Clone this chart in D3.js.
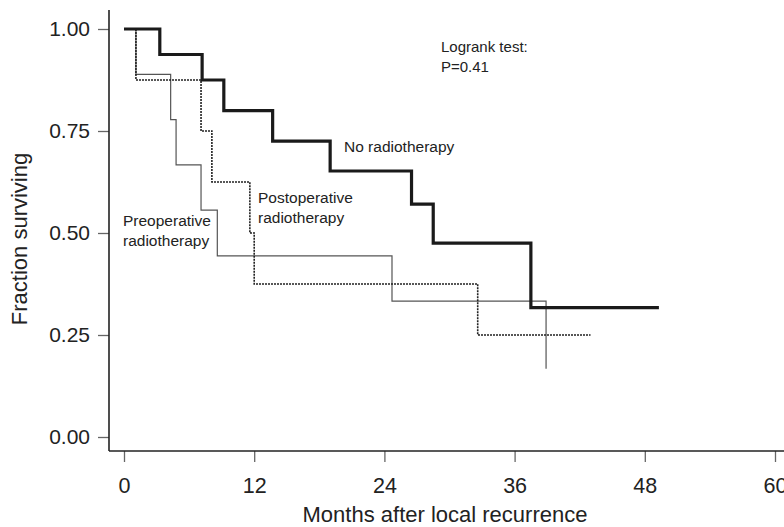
<!DOCTYPE html>
<html>
<head>
<meta charset="utf-8">
<script src="https://cdn.jsdelivr.net/npm/d3@7"></script>
<style>
    body { margin: 0; background: #fff; }
    text { fill: #222; }
</style>
</head>
<body>
<script>
// Kaplan-Meier steps: month of each drop and level after it
const no_rt_times = [3.3, 7.2, 9.2, 13.7, 19.0, 26.5, 28.5, 37.5];
const no_rt_surv = [0.9375, 0.875, 0.80, 0.725, 0.652, 0.571, 0.475, 0.317];
const no_rt_end = 49.3;

const pre_rt_times = [1.1, 4.3, 4.8, 7.1, 8.6, 24.7, 38.9];
const pre_rt_surv = [0.889, 0.778, 0.667, 0.556, 0.444, 0.333, 0.167];
const pre_rt_end = 38.9;

const post_rt_times = [1.1, 7.1, 8.1, 11.6, 12.0, 32.6];
const post_rt_surv = [0.875, 0.75, 0.625, 0.5, 0.375, 0.25];
const post_rt_end = 43.0;

const x_ticks = [0, 12, 24, 36, 48, 60];
const y_ticks = [0, 0.25, 0.5, 0.75, 1];

const width = 784,
    height = 527;

const font = '"Liberation Sans", Arial, sans-serif';

const x = d3.scaleLinear().domain([0, 60]).range([124, 775]);
const y = d3.scaleLinear().domain([0, 1]).range([437, 29]);

const svg = d3.select('body')
    .append('svg')
    .attr('width', width)
    .attr('height', height);

function steps(times, surv, end) {
    let pts = [[0, 1]];
    times.forEach((t, i) => pts.push([t, surv[i]]));
    if (end > times[times.length - 1]) pts.push([end, surv[surv.length - 1]]);
    return pts;
}

const line = d3.line()
    .x(d => x(d[0]))
    .y(d => y(d[1]))
    .curve(d3.curveStepAfter);

// axes
const axis_y = 451,
    axis_x = 109;

const xAxis = svg.append('g')
    .attr('transform', 'translate(0,' + axis_y + ')')
    .call(d3.axisBottom(x).tickValues(x_ticks).tickSize(11).tickPadding(16).tickFormat(d3.format('d')));
xAxis.select('.domain').remove();
xAxis.selectAll('.tick line').attr('stroke', '#666').attr('stroke-width', 1.3);
xAxis.selectAll('.tick text')
    .style('font-family', font)
    .style('font-size', '21.5px')
    .attr('fill', '#222');

const yAxis = svg.append('g')
    .attr('transform', 'translate(' + axis_x + ',0)')
    .call(d3.axisLeft(y).tickValues(y_ticks).tickSize(11).tickPadding(8).tickFormat(d3.format('.2f')));
yAxis.select('.domain').remove();
yAxis.selectAll('.tick line').attr('stroke', '#666').attr('stroke-width', 1.3);
yAxis.selectAll('.tick text')
    .style('font-family', font)
    .style('font-size', '21px')
    .attr('fill', '#222');

svg.append('line')
    .attr('x1', axis_x).attr('x2', width)
    .attr('y1', axis_y).attr('y2', axis_y)
    .attr('stroke', '#222').attr('stroke-width', 1.6);

svg.append('line')
    .attr('x1', axis_x).attr('x2', axis_x)
    .attr('y1', 10).attr('y2', axis_y)
    .attr('stroke', '#222').attr('stroke-width', 1.6);

svg.append('text')
    .attr('x', 445)
    .attr('y', 522)
    .attr('text-anchor', 'middle')
    .style('font-family', font)
    .style('font-size', '22px')
    .text('Months after local recurrence');

svg.append('text')
    .attr('transform', 'translate(27,239) rotate(-90)')
    .attr('text-anchor', 'middle')
    .style('font-family', font)
    .style('font-size', '22px')
    .text('Fraction surviving');

// curves
svg.append('path')
    .datum(steps(pre_rt_times, pre_rt_surv, pre_rt_end))
    .attr('d', line)
    .attr('fill', 'none')
    .attr('stroke', '#555')
    .attr('stroke-width', 1.2);

svg.append('path')
    .datum(steps(post_rt_times, post_rt_surv, post_rt_end))
    .attr('d', line)
    .attr('fill', 'none')
    .attr('stroke', '#222')
    .attr('stroke-width', 1.6)
    .attr('stroke-dasharray', '2,1');

svg.append('path')
    .datum(steps(no_rt_times, no_rt_surv, no_rt_end))
    .attr('d', line)
    .attr('fill', 'none')
    .attr('stroke', '#1a1a1a')
    .attr('stroke-width', 3.2);

// labels
function label(lines, px, py, size) {
    const t = svg.append('text')
        .style('font-family', font)
        .style('font-size', size + 'px');
    lines.forEach((s, i) => {
        t.append('tspan').attr('x', px).attr('y', py + i * 20).text(s);
    });
}

label(['No radiotherapy'], 344, 152, 15.5);
label(['Postoperative', 'radiotherapy'], 258, 203, 15.5);
label(['Preoperative', 'radiotherapy'], 123, 226, 15.5);
label(['Logrank test:', 'P=0.41'], 441, 52, 15);
</script>
</body>
</html>
